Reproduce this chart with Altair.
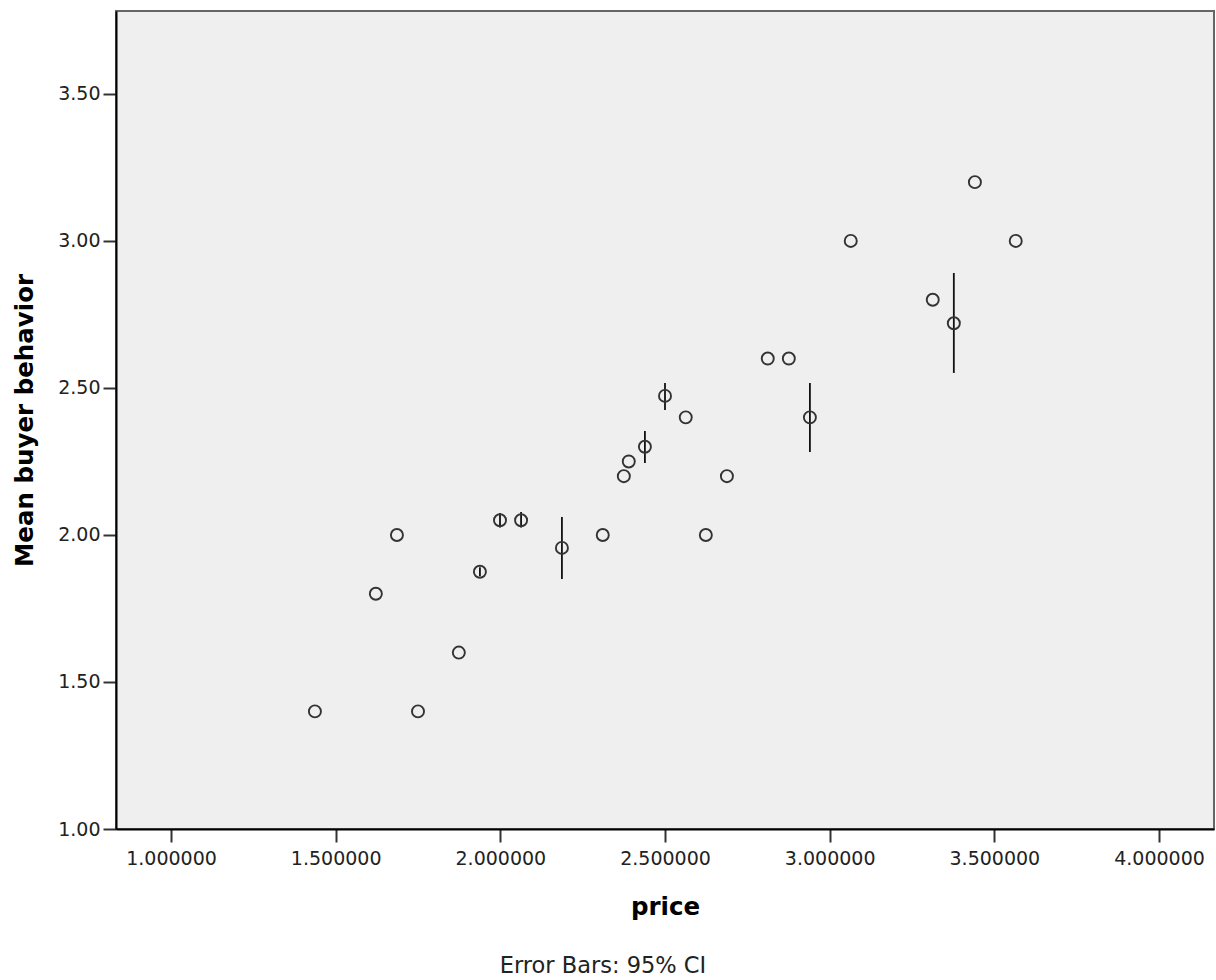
import altair as alt
import pandas as pd

price = [1.437, 1.622, 1.686, 1.750, 1.874, 1.938, 1.999, 2.063, 2.187, 2.311,
         2.375, 2.390, 2.439, 2.500, 2.563, 2.624, 2.688, 2.812, 2.876, 2.940,
         3.064, 3.313, 3.377, 3.441, 3.565]
mean_bb = [1.40, 1.80, 2.00, 1.40, 1.60, 1.875, 2.05, 2.05, 1.956, 2.00,
           2.20, 2.25, 2.30, 2.473, 2.40, 2.00, 2.20, 2.60, 2.60, 2.40,
           3.00, 2.80, 2.72, 3.20, 3.00]

ci_price = [1.938, 1.999, 2.063, 2.187, 2.439, 2.500, 2.940, 3.377]
ci_low = [1.86, 2.025, 2.025, 1.850, 2.245, 2.425, 2.282, 2.551]
ci_high = [1.89, 2.075, 2.078, 2.061, 2.354, 2.517, 2.517, 2.891]

x_ticks = [1.0, 1.5, 2.0, 2.5, 3.0, 3.5, 4.0]
y_ticks = [1.0, 1.5, 2.0, 2.5, 3.0, 3.5]

pts = pd.DataFrame({"price": price, "mean": mean_bb})
cis = pd.DataFrame({"price": ci_price, "lo": ci_low, "hi": ci_high})

FONT = "DejaVu Sans"

xscale = alt.Scale(domain=[0.833, 4.167], nice=False, zero=False)
yscale = alt.Scale(domain=[1.0, 3.782], nice=False, zero=False)

xaxis = alt.Axis(values=x_ticks, format=".6f", title="price", grid=False,
                 domainColor="#000000", domainWidth=2, tickColor="#333333",
                 tickWidth=2, tickSize=13, labelFont=FONT, labelFontSize=19,
                 labelColor="#222222", labelPadding=7, titleFont=FONT,
                 titleFontSize=24.5, titleFontWeight="bold", titleColor="#000000",
                 titlePadding=27)
yaxis = alt.Axis(values=y_ticks, format=".2f", title="Mean buyer behavior",
                 grid=False, domainColor="#000000", domainWidth=2,
                 tickColor="#333333", tickWidth=2, tickSize=13, labelFont=FONT,
                 labelFontSize=19, labelColor="#222222", labelPadding=3,
                 titleFont=FONT, titleFontSize=24.5, titleFontWeight="bold",
                 titleColor="#000000", titlePadding=20)

points = alt.Chart(pts).mark_point(shape="circle", size=145, filled=False,
                                   strokeWidth=1.9, color="#333333", opacity=1).encode(
    x=alt.X("price:Q", scale=xscale, axis=xaxis),
    y=alt.Y("mean:Q", scale=yscale, axis=yaxis),
)

bars = alt.Chart(cis).mark_rule(color="#111111", strokeWidth=1.8).encode(
    x=alt.X("price:Q", scale=xscale),
    y=alt.Y("lo:Q", scale=yscale),
    y2="hi:Q",
)

note = alt.Chart(pd.DataFrame({"t": ["Error Bars: 95% CI"]})).mark_text(
    font=FONT, fontSize=22.5, color="#222222", align="center", baseline="alphabetic"
).encode(x=alt.value(487), y=alt.value(962), text="t:N")

chart = alt.layer(bars, points, note).properties(
    width=1098, height=818,
    autosize=alt.AutoSizeParams(type="none"),
    padding={"left": 116, "top": 11, "right": 2, "bottom": 151},
    background="#ffffff",
).configure_view(fill="#efefef", stroke="#666666", strokeWidth=2)

chart.save("out.html", embed_options={"renderer": "svg", "actions": False})
